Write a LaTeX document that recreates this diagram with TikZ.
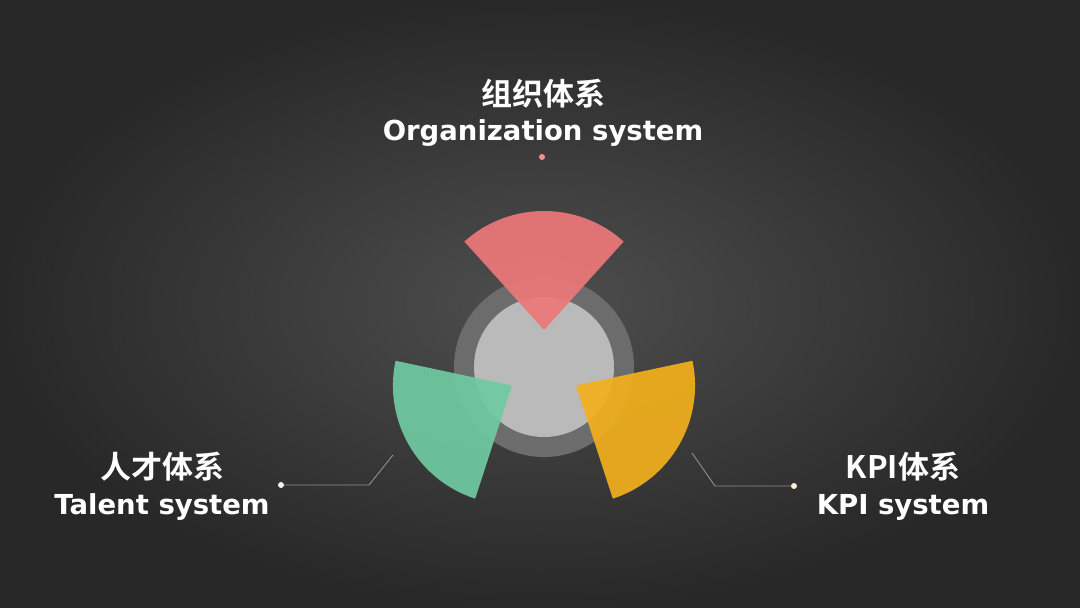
\documentclass[tikz,border=0pt]{standalone}
\usepackage{fontspec}
\newfontfamily\lblfont{Noto Sans CJK SC Bold}
\newfontfamily\enfont{DejaVu Sans}
\definecolor{bgin}{HTML}{4E4E4E}
\definecolor{bgout}{HTML}{282828}
\definecolor{ringgray}{HTML}{6C6C6C}
\definecolor{coregray}{HTML}{BABABA}
\definecolor{secred}{HTML}{EE7878}
\definecolor{secgreen}{HTML}{6FCBA2}
\definecolor{secyellow}{HTML}{F2B01C}
\definecolor{leadgray}{HTML}{8E8E8E}
\tikzset{
  cnlabel/.style={text=white, font=\lblfont\fontsize{31}{31}\selectfont, inner sep=0pt},
  enlabel/.style={text=white, font=\enfont\bfseries\fontsize{27.5}{27.5}\selectfont, inner sep=0pt, anchor=base},
  leader/.style={draw=leadgray, line width=0.9pt},
  enddot/.style={circle, inner sep=0pt, minimum size=6pt}
}
\begin{document}
\begin{tikzpicture}[x=1pt, y=1pt]
  \shade[inner color=bgin, outer color=bgout] (0,0) rectangle (1080,608);
  \useasboundingbox (0,0) rectangle (1080,608);
  % centre disc
  \coordinate (c) at (544,241);
  \fill[ringgray] (c) circle (90);
  \fill[coregray] (c) circle (70);
  % three fans
  \foreach \d / \col in {90/secred, 210/secgreen, 330/secyellow} {
    \fill[\col, opacity=0.92, shift={(c)}] (\d:37) -- ++(\d-42:119) arc[start angle=\d-42, end angle=\d+42, radius=119] -- cycle;
  }
  % labels
  \node[cnlabel] (orgcn) at (543,514) {组织体系};
  \node[enlabel] (orgen) at (543,467) {Organization system};
  \node[cnlabel] (talcn) at (162,141) {人才体系};
  \node[enlabel] (talen) at (162,93) {Talent system};
  \node[cnlabel] (kpicn) at (903,141) {KPI体系};
  \node[enlabel] (kpien) at (903,93) {KPI system};
  % leader lines
  \node[enddot, fill=secred!80!white] (orgdot) at (542,451) {};
  \coordinate (talstart) at (393,153);
  \coordinate (talbend) at (369,123);
  \node[enddot, fill=white!85!secgreen] (taldot) at (281,123) {};
  \coordinate (kpistart) at (692,155);
  \coordinate (kpibend) at (715,122);
  \node[enddot, fill=white!80!secyellow] (kpidot) at (794,122) {};
  \draw[leader] (talstart) -- (talbend) -- (taldot);
  \draw[leader] (kpistart) -- (kpibend) -- (kpidot);
\end{tikzpicture}
\end{document}
